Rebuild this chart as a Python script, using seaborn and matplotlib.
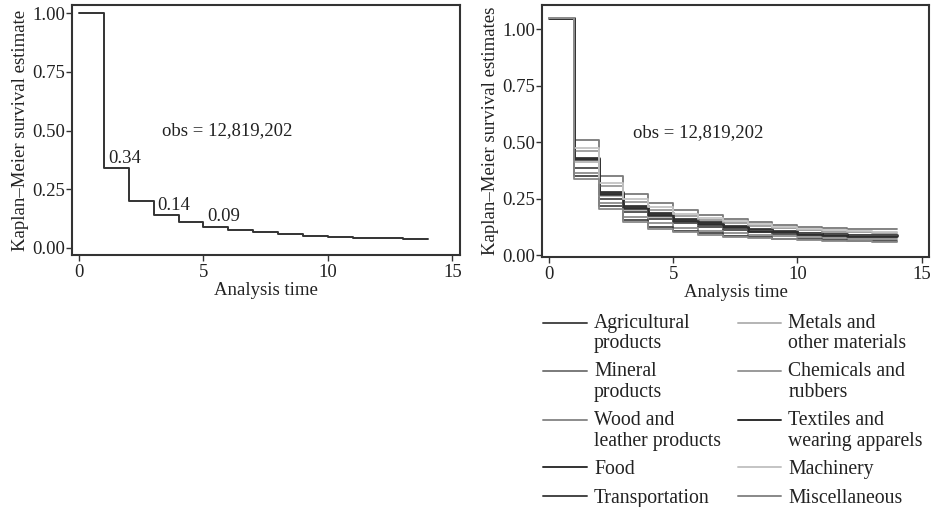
import matplotlib
matplotlib.use("Agg")
import matplotlib.pyplot as plt
from matplotlib.legend_handler import HandlerLine2D
import seaborn as sns
import pandas as pd

sns.set_theme(style="white")
plt.rcParams["font.family"] = ["Liberation Serif", "DejaVu Serif"]

# Analysis time points (years) and pooled Kaplan-Meier survival estimate
times = list(range(15))
pooled_survival = [1.00, 0.34, 0.20, 0.14, 0.11, 0.09, 0.078, 0.066, 0.059,
                   0.052, 0.046, 0.044, 0.041, 0.039, 0.039]
step_labels = [(1, 0.34), (3, 0.14), (5, 0.09)]
obs_text = "obs = 12,819,202"

# Survival estimates by product group
sectors = [
    "Agricultural\nproducts", "Mineral\nproducts", "Wood and\nleather products",
    "Food", "Transportation", "Metals and\nother materials",
    "Chemicals and\nrubbers", "Textiles and\nwearing apparels",
    "Machinery", "Miscellaneous",
]
agricultural = [1.05, 0.385, 0.250, 0.190, 0.160, 0.140, 0.125, 0.112, 0.102, 0.095, 0.089, 0.084, 0.080, 0.078, 0.078]
mineral = [1.05, 0.507, 0.349, 0.272, 0.231, 0.199, 0.177, 0.160, 0.147, 0.135, 0.125, 0.121, 0.116, 0.113, 0.113]
wood_leather = [1.05, 0.365, 0.230, 0.170, 0.140, 0.120, 0.107, 0.097, 0.089, 0.083, 0.078, 0.074, 0.071, 0.069, 0.069]
food = [1.05, 0.430, 0.280, 0.216, 0.187, 0.158, 0.146, 0.128, 0.113, 0.106, 0.099, 0.091, 0.088, 0.087, 0.087]
transportation = [1.05, 0.350, 0.215, 0.155, 0.125, 0.108, 0.096, 0.086, 0.079, 0.073, 0.069, 0.066, 0.063, 0.062, 0.062]
metals = [1.05, 0.410, 0.260, 0.200, 0.170, 0.145, 0.132, 0.118, 0.107, 0.099, 0.093, 0.087, 0.084, 0.082, 0.082]
chemicals = [1.05, 0.460, 0.305, 0.235, 0.200, 0.172, 0.156, 0.140, 0.128, 0.118, 0.110, 0.104, 0.100, 0.098, 0.098]
textiles = [1.05, 0.425, 0.272, 0.208, 0.178, 0.150, 0.138, 0.122, 0.108, 0.100, 0.094, 0.088, 0.085, 0.083, 0.083]
machinery = [1.05, 0.475, 0.320, 0.250, 0.212, 0.183, 0.165, 0.150, 0.137, 0.126, 0.117, 0.111, 0.107, 0.104, 0.104]
miscellaneous = [1.05, 0.337, 0.205, 0.146, 0.116, 0.102, 0.090, 0.081, 0.075, 0.069, 0.066, 0.063, 0.060, 0.059, 0.059]
sector_series = [agricultural, mineral, wood_leather, food, transportation,
                 metals, chemicals, textiles, machinery, miscellaneous]
sector_colors = ["#4a4a4a", "#7a7a7a", "#8c8c8c", "#333333", "#454545",
                 "#b4b4b4", "#9a9a9a", "#2e2e2e", "#c4c4c4", "#888888"]
sector_widths = [1.3, 1.3, 1.3, 2.0, 1.3, 1.3, 1.3, 1.8, 1.3, 1.3]

pooled = pd.DataFrame({"time": times, "survival": pooled_survival})
by_sector = pd.concat(
    [pd.DataFrame({"time": times, "survival": s, "sector": name})
     for name, s in zip(sectors, sector_series)],
    ignore_index=True,
)

fig = plt.figure(figsize=(9.36, 5.07), dpi=100)
ax1 = fig.add_axes([0.0769, 0.497, 0.4145, 0.493])
ax2 = fig.add_axes([0.579, 0.493, 0.4135, 0.497])

frame = "#333333"
fs = 13.5
legend_fs = 14.2
legend_linespacing = 1.1


def style_axes(ax, ylabel, ylim):
    ax.set_xlim(-0.28, 15.3)
    ax.set_ylim(*ylim)
    ax.set_xticks([0, 5, 10, 15])
    ax.set_yticks([0, 0.25, 0.5, 0.75, 1.0])
    ax.set_yticklabels(["0.00", "0.25", "0.50", "0.75", "1.00"])
    ax.set_xlabel("Analysis time", fontsize=fs, labelpad=1, color="#222222")
    ax.set_ylabel(ylabel, fontsize=fs, labelpad=2, color="#222222")
    ax.tick_params(axis="both", which="major", direction="out", length=4,
                   width=1.0, color=frame, labelsize=fs, labelcolor="#222222",
                   bottom=True, left=True, pad=1)
    ax.tick_params(axis="x", pad=2.5)
    for sp in ax.spines.values():
        sp.set_color(frame)
        sp.set_linewidth(1.5)
        sp.set_visible(True)


# Left: pooled survival curve
sns.lineplot(data=pooled, x="time", y="survival", ax=ax1, color="#333333",
             linewidth=1.4, drawstyle="steps-post", legend=False)
style_axes(ax1, "Kaplan\u2013Meier survival estimate", (-0.03, 1.034))
for t, v in step_labels:
    ax1.text(t + 0.16, v + 0.006, f"{v:.2f}", fontsize=fs, color="#222222",
             ha="left", va="bottom")
ax1.text(3.34, 0.50, obs_text, fontsize=fs, color="#222222", ha="left", va="center")

# Right: survival curves by product group
sns.lineplot(data=by_sector, x="time", y="survival", hue="sector",
             hue_order=sectors, palette=dict(zip(sectors, sector_colors)),
             ax=ax2, drawstyle="steps-post", legend=False, linewidth=1.3)
for line, lw in zip(ax2.lines, sector_widths):
    line.set_linewidth(lw)
style_axes(ax2, "Kaplan\u2013Meier survival estimates", (-0.009, 1.106))
ax2.text(3.38, 0.54, obs_text, fontsize=fs, color="#222222", ha="left", va="center")


class FirstLineHandler(HandlerLine2D):
    """Place the legend line level with the first line of a wrapped label."""

    def __init__(self, lift, **kw):
        super().__init__(**kw)
        self.lift = lift

    def create_artists(self, legend, orig_handle, xdescent, ydescent,
                       width, height, fontsize, trans):
        arts = super().create_artists(legend, orig_handle, xdescent, ydescent,
                                      width, height, fontsize, trans)
        for a in arts:
            y = a.get_ydata()
            a.set_ydata([yy + self.lift for yy in y])
        return arts


handles = [plt.Line2D([], [], color=c, linewidth=1.4) for c in sector_colors]
hmap = {}
for h, name in zip(handles, sectors):
    nlines = name.count("\n") + 1
    hmap[h] = FirstLineHandler(
        lift=0.5 * (nlines - 1) * legend_linespacing * legend_fs)

leg = fig.legend(handles, sectors, handler_map=hmap, ncol=2, fontsize=legend_fs,
                 loc="upper left", bbox_to_anchor=(0.572, 0.397),
                 frameon=False, handlelength=2.2, handletextpad=0.37,
                 columnspacing=0.85, labelspacing=0.48, borderaxespad=0.0)
for t in leg.get_texts():
    t.set_color("#222222")
    t.set_linespacing(legend_linespacing)

fig.savefig("out.png", dpi=100, facecolor="white")
